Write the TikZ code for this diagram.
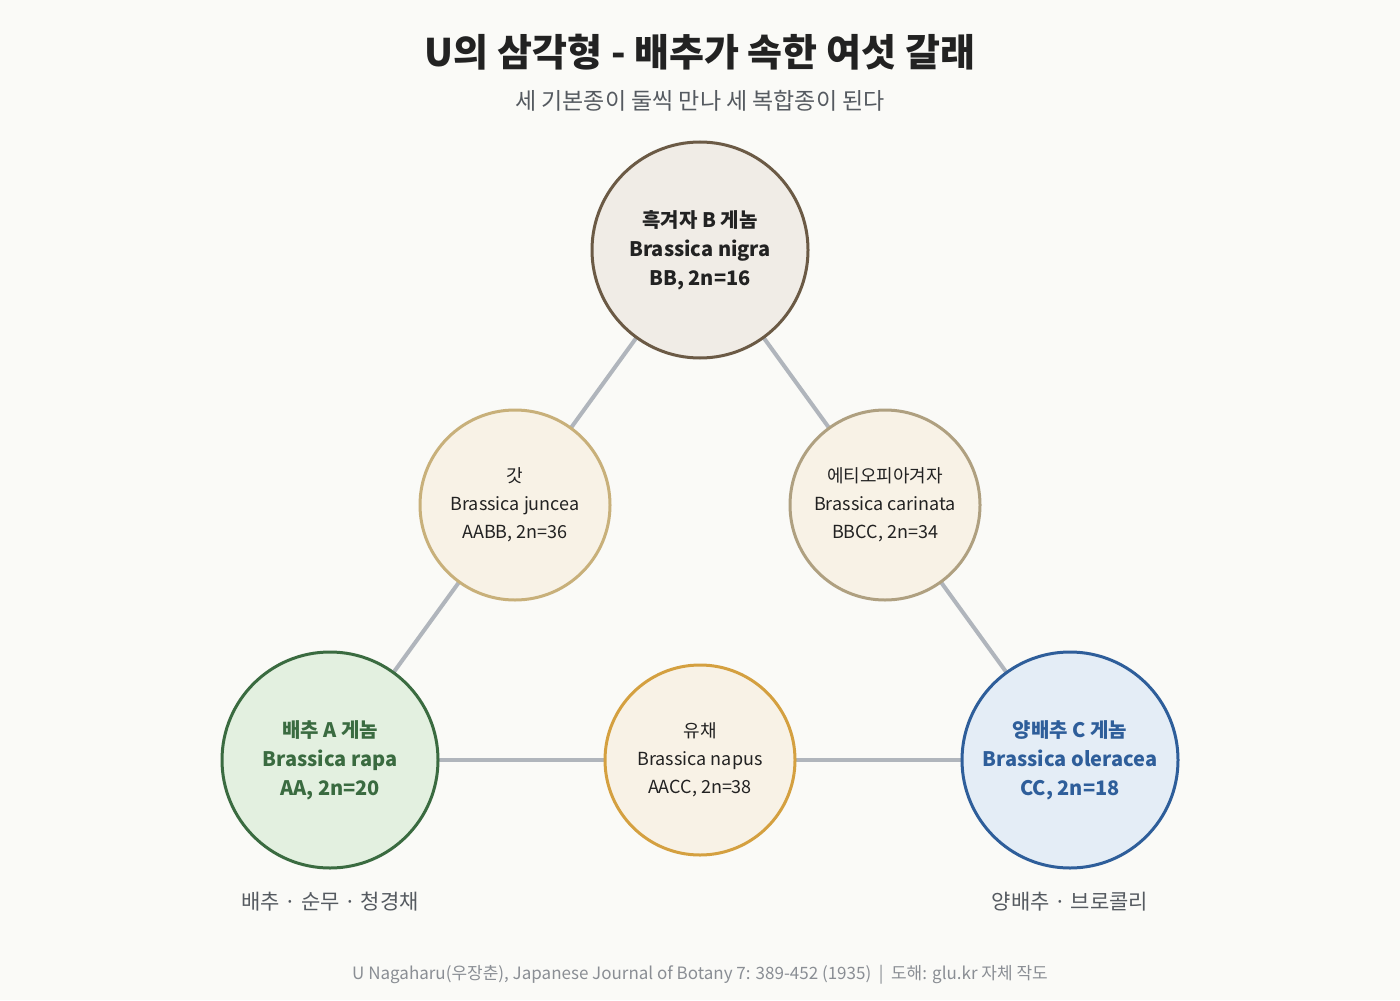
\documentclass[tikz,border=0pt]{standalone}
\usepackage{fontspec}
\setmainfont{Noto Sans CJK KR}
\definecolor{bg}{HTML}{FAFAF7}
\definecolor{txt}{HTML}{222222}
\definecolor{lin}{HTML}{B0B5BC}
\definecolor{smfill}{HTML}{F8F2E6}
\definecolor{gray1}{HTML}{555A60}
\definecolor{gray2}{HTML}{8A8E94}
\definecolor{bS}{HTML}{6B5A45}\definecolor{bF}{HTML}{F0ECE6}
\definecolor{aS}{HTML}{3A6B40}\definecolor{aF}{HTML}{E3F0E0}
\definecolor{cS}{HTML}{2E5E9A}\definecolor{cF}{HTML}{E4EDF6}
\definecolor{jS}{HTML}{C8B07A}\definecolor{kS}{HTML}{AFA080}\definecolor{nS}{HTML}{D4A040}
\begin{document}
\begin{tikzpicture}[x=0.5pt,y=-0.5pt,
  big/.style={circle,minimum size=108pt,line width=1.5pt,align=center,inner sep=0pt,font=\fontsize{10}{14.5}\selectfont\bfseries},
  small/.style={circle,minimum size=95pt,line width=1.5pt,align=center,inner sep=0pt,fill=smfill,text=txt,font=\fontsize{9}{14}\selectfont},
  conn/.style={draw=lin,line width=2pt}]
\fill[bg] (0,0) rectangle (1400,1000);
\useasboundingbox (0,0) rectangle (1400,1000);
\node[font=\fontsize{19}{22}\selectfont\bfseries,text=txt] (title) at (700,52) {U의 삼각형 - 배추가 속한 여섯 갈래};
\node[font=\fontsize{11.5}{14}\selectfont,text=gray1] (sub) at (700,101) {세 기본종이 둘씩 만나 세 복합종이 된다};
\coordinate (pB) at (700,250);
\coordinate (pA) at (330,760);
\coordinate (pC) at (1070,760);
\draw[conn] (pB) -- (pA);
\draw[conn] (pB) -- (pC);
\draw[conn] (pA) -- (pC);
\node[big,draw=bS,fill=bF,text=txt] (B) at (pB) {흑겨자 B 게놈\\Brassica nigra\\BB, 2n=16};
\node[big,draw=aS,fill=aF,text=aS] (A) at (pA) {배추 A 게놈\\Brassica rapa\\AA, 2n=20};
\node[big,draw=cS,fill=cF,text=cS] (C) at (pC) {양배추 C 게놈\\Brassica oleracea\\CC, 2n=18};
\node[small,draw=jS] (J) at (515,505) {갓\\Brassica juncea\\AABB, 2n=36};
\node[small,draw=kS] (K) at (885,505) {에티오피아겨자\\Brassica carinata\\BBCC, 2n=34};
\node[small,draw=nS] (N) at (700,760) {유채\\Brassica napus\\AACC, 2n=38};
\node[font=\fontsize{10.5}{13}\selectfont,text=gray1] (la) at (330,902) {배추 · 순무 · 청경채};
\node[font=\fontsize{10.5}{13}\selectfont,text=gray1] (lc) at (1070,902) {양배추 · 브로콜리};
\node[font=\fontsize{8.5}{10}\selectfont,text=gray2] (foot) at (700,975) {U Nagaharu(우장춘), Japanese Journal of Botany 7: 389-452 (1935) \ | \ 도해: glu.kr 자체 작도};
\end{tikzpicture}
\end{document}
